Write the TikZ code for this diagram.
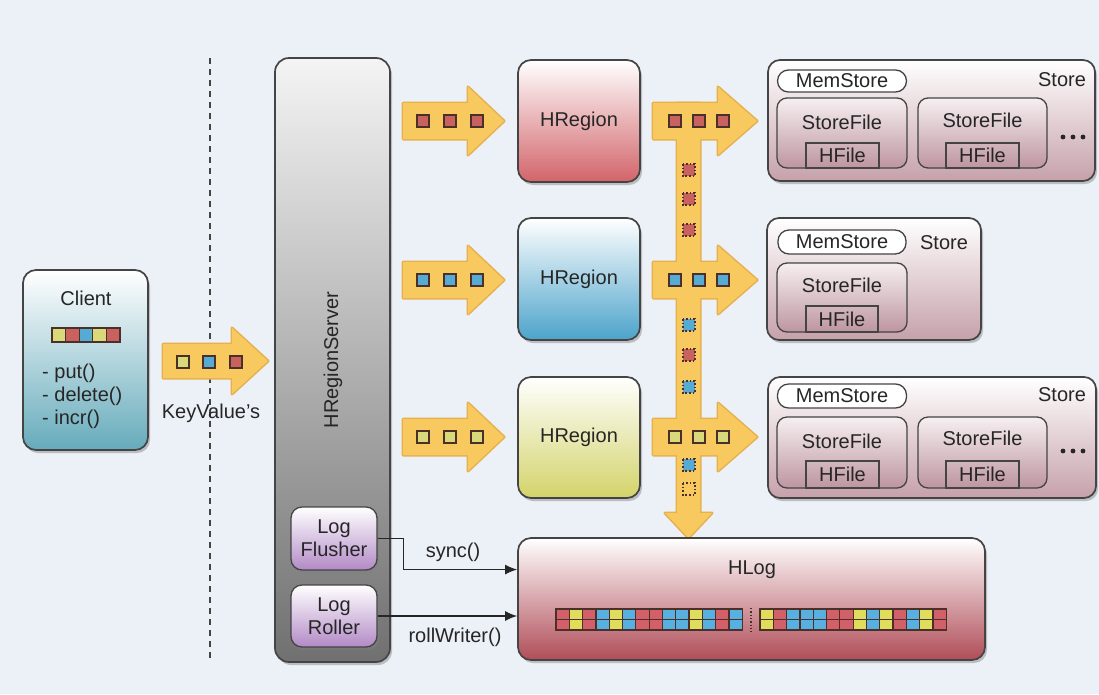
\documentclass[tikz,border=0pt]{standalone}
\usepackage{fontspec}
\setmainfont{Liberation Sans}
\usetikzlibrary{shadows,arrows.meta,calc}
\definecolor{bgc}{HTML}{ECF0F7}
\definecolor{txt}{HTML}{262626}
\definecolor{edge}{HTML}{444444}
\definecolor{arrowfill}{HTML}{F8C95E}
\definecolor{arrowedge}{HTML}{E6B04E}
\definecolor{sqedge}{HTML}{4A3028}
\definecolor{sqr}{HTML}{C9625F}
\definecolor{sqb}{HTML}{55ABD3}
\definecolor{sqy}{HTML}{D9D97A}
\definecolor{regred}{HTML}{D2646A}
\definecolor{regblue}{HTML}{4CA3CB}
\definecolor{regyel}{HTML}{D3D36A}
\definecolor{clientc}{HTML}{66ABBB}
\definecolor{storec}{HTML}{C6A1AA}
\definecolor{sftop}{HTML}{F6EFF1}
\definecolor{sfbot}{HTML}{BD95A0}
\definecolor{hlogc}{HTML}{B04D58}
\definecolor{logc}{HTML}{B28AC6}
\definecolor{srvtop}{HTML}{F4F4F4}
\definecolor{srvmid}{HTML}{B8B8B8}
\definecolor{srvbot}{HTML}{707070}
\definecolor{lbr}{HTML}{D35F68}
\definecolor{lby}{HTML}{E0DD5C}
\definecolor{lbb}{HTML}{57B0E0}
\tikzset{
  lbl/.style={font=\fontsize{20}{23}\selectfont, text=txt, inner sep=0pt},
  box/.style={draw=edge, line width=1.7pt, rounded corners=13pt, inner sep=0pt,
    drop shadow={opacity=0.45, shadow xshift=2pt, shadow yshift=-3pt}},
  pill/.style={draw=edge, line width=1.3pt, rounded corners=11pt, fill=white, inner sep=0pt,
    font=\fontsize{20}{23}\selectfont, text=txt},
  sfbox/.style={draw=edge, line width=1.3pt, rounded corners=10pt, top color=sftop, bottom color=sfbot, inner sep=0pt},
  hfbox/.style={draw=edge, line width=1.3pt, inner sep=0pt, font=\fontsize{20}{23}\selectfont, text=txt},
  sqs/.style={draw=sqedge, line width=1.2pt},
  dsq/.style={draw=sqedge, line width=1.6pt, dotted},
  yedge/.style={draw=arrowedge, line width=3pt, line join=round},
  yfill/.style={fill=arrowfill},
  conn/.style={draw=txt, line width=1.3pt, -{Latex[length=12pt,width=10pt]}},
}
\newcommand\harrowpath[6]{(#1,#4-#5) -- (#2,#4-#5) -- (#2,#4-#6) -- (#3,#4) -- (#2,#4+#6) -- (#2,#4+#5) -- (#1,#4+#5) -- cycle}
\newcommand\kvsq[3]{\draw[sqs, fill=#3] (#1-6,#2-6) rectangle ++(12,12);}
\newcommand\dotsq[3]{\draw[dsq, fill=#3] (#1-6,#2-6) rectangle ++(12,12);}
\begin{document}
\begin{tikzpicture}[x=1pt,y=-1pt]
\fill[bgc] (0,0) rectangle (1099,694);
\useasboundingbox (0,0) rectangle (1099,694);

% dashed separator
\coordinate (dtop) at (210,58);
\coordinate (dbot) at (210,662);
\draw[draw=edge, line width=2.2pt, dash pattern=on 6pt off 5pt] (dtop) -- (dbot);

% Client
\node[box, minimum width=125pt, minimum height=180pt, top color=white, bottom color=clientc] (client) at (85.5,360) {};
\node[lbl] (clientt) at (86,298) {Client};
\foreach \c [count=\i from 0] in {sqy,sqr,sqb,sqy,sqr}{
  \draw[sqs, fill=\c] (52+\i*13.6,328) rectangle ++(13.6,14);
}
\node[lbl, anchor=west, align=left] (ops) at (42,396) {- put()\\- delete()\\- incr()};

% yellow arrows (union outline, then fill)
\foreach \s in {yedge,yfill}{
  \path[\s] \harrowpath{163}{232}{268}{361}{17}{33};
  \path[\s] \harrowpath{403}{468}{504}{121}{18}{34};
  \path[\s] \harrowpath{403}{468}{504}{280}{18}{34};
  \path[\s] \harrowpath{403}{468}{504}{437}{18}{34};
  \path[\s] (677,103) -- (700,103) -- (700,513) -- (712,513) -- (688.5,538) -- (665,513) -- (677,513) -- cycle;
  \path[\s] \harrowpath{653}{718}{757}{121}{18}{34};
  \path[\s] \harrowpath{653}{718}{757}{280}{18}{34};
  \path[\s] \harrowpath{653}{718}{757}{437}{18}{34};
}
\node[lbl] (kvl) at (211,413) {KeyValue's};
% squares in arrows
\kvsq{183}{362}{sqy}\kvsq{209}{362}{sqb}\kvsq{236}{362}{sqr}
\kvsq{423}{121}{sqr}\kvsq{450}{121}{sqr}\kvsq{477}{121}{sqr}
\kvsq{423}{280}{sqb}\kvsq{450}{280}{sqb}\kvsq{477}{280}{sqb}
\kvsq{423}{437}{sqy}\kvsq{450}{437}{sqy}\kvsq{477}{437}{sqy}
\kvsq{675}{121}{sqr}\kvsq{699}{121}{sqr}\kvsq{723}{121}{sqr}
\kvsq{675}{280}{sqb}\kvsq{699}{280}{sqb}\kvsq{723}{280}{sqb}
\kvsq{675}{437}{sqy}\kvsq{699}{437}{sqy}\kvsq{723}{437}{sqy}
\dotsq{689}{170}{sqr}\dotsq{689}{199}{sqr}\dotsq{689}{230}{sqr}
\dotsq{689}{325}{sqb}\dotsq{689}{355}{sqr}\dotsq{689}{387}{sqb}
\dotsq{689}{465}{sqb}\dotsq{689}{489}{arrowfill}

% HRegionServer
\node[box, rounded corners=14pt, minimum width=115pt, minimum height=604pt,
  top color=srvtop, middle color=srvmid, bottom color=srvbot] (hrs) at (332.5,360) {};
\node[lbl, rotate=90] (hrst) at (333,360) {HRegionServer};
\node[box, line width=1.3pt, rounded corners=11pt, minimum width=86pt, minimum height=63pt,
  top color=white, bottom color=logc, lbl, align=center] (flusher) at (334,538.5) {Log\\Flusher};
\node[box, line width=1.3pt, rounded corners=11pt, minimum width=86pt, minimum height=62pt,
  top color=white, bottom color=logc, lbl, align=center] (roller) at (334,616) {Log\\Roller};

% HRegions
\node[box, minimum width=122pt, minimum height=122pt, top color=white, bottom color=regred, lbl] (r1) at (579,121) {HRegion};
\node[box, minimum width=122pt, minimum height=122pt, top color=white, bottom color=regblue, lbl] (r2) at (579,279) {HRegion};
\node[box, minimum width=122pt, minimum height=121pt, top color=white, bottom color=regyel, lbl] (r3) at (579,437.5) {HRegion};

% HLog
\node[box, minimum width=467pt, minimum height=122pt, top color=white, bottom color=hlogc] (hlog) at (751.5,599) {};
\node[lbl] (hlogt) at (752,570) {HLog};
\foreach \c [count=\i from 0] in {lbr,lby,lbr,lbb,lby,lbb,lbr,lbr,lbb,lbb,lby,lbb,lbr,lbb}{
  \draw[sqs, fill=\c] (556+\i*13.3,609) rectangle ++(13.3,10.5);
  \draw[sqs, fill=\c] (556+\i*13.3,619.5) rectangle ++(13.3,10.5);
}
\foreach \c [count=\i from 0] in {lby,lbr,lbb,lbb,lbb,lbr,lbr,lby,lbb,lby,lbr,lbb,lby,lbr}{
  \draw[sqs, fill=\c] (760+\i*13.3,609) rectangle ++(13.3,10.5);
  \draw[sqs, fill=\c] (760+\i*13.3,619.5) rectangle ++(13.3,10.5);
}
\draw[draw=sqedge, line width=1.3pt, dotted] (751,608) -- (751,632);

% connectors
\coordinate (syncend) at ($(hlog.north west)!0.262!(hlog.south west)$);
\draw[conn] (flusher.east) -- ++(26,0) |- (syncend);
\draw[conn] (roller.east) -- (roller.east -| hlog.west);
\node[lbl] (syncl) at (453,552) {sync()};
\node[lbl] (rolll) at (455,637) {rollWriter()};

% Store 1
\node[box, rounded corners=12pt, minimum width=327pt, minimum height=121pt, top color=white, bottom color=storec] (st1) at (931.5,120.5) {};
\node[lbl] (st1l) at (1062,80) {Store};
\node[pill, minimum width=129pt, minimum height=22pt] (ms1) at (842,81) {MemStore};
\node[sfbox, minimum width=130pt, minimum height=70pt] (sf1a) at (842,133) {};
\node[lbl] (sf1at) at (842,122) {StoreFile};
\node[hfbox, minimum width=73pt, minimum height=25pt] (hf1a) at (842.5,155.5) {HFile};
\node[sfbox, minimum width=129pt, minimum height=70pt] (sf1b) at (982.5,133) {};
\node[lbl] (sf1bt) at (982.5,120) {StoreFile};
\node[hfbox, minimum width=73pt, minimum height=25pt] (hf1b) at (982.5,155.5) {HFile};
\foreach \d in {0,10,20}{\fill[txt] (1063+\d,137) circle (2.4pt);}

% Store 2
\node[box, rounded corners=12pt, minimum width=214pt, minimum height=122pt, top color=white, bottom color=storec] (st2) at (874,279) {};
\node[lbl] (st2l) at (944,243) {Store};
\node[pill, minimum width=128pt, minimum height=24pt] (ms2) at (842,242) {MemStore};
\node[sfbox, minimum width=130pt, minimum height=69pt] (sf2) at (842,297.5) {};
\node[lbl] (sf2t) at (842,285) {StoreFile};
\node[hfbox, minimum width=72pt, minimum height=26pt] (hf2) at (842,319) {HFile};

% Store 3
\node[box, rounded corners=12pt, minimum width=328pt, minimum height=121pt, top color=white, bottom color=storec] (st3) at (932,437.5) {};
\node[lbl] (st3l) at (1062,395) {Store};
\node[pill, minimum width=129pt, minimum height=24pt] (ms3) at (842,396) {MemStore};
\node[sfbox, minimum width=130pt, minimum height=71pt] (sf3a) at (842,452.5) {};
\node[lbl] (sf3at) at (842,441) {StoreFile};
\node[hfbox, minimum width=73pt, minimum height=27pt] (hf3a) at (842.5,474.5) {HFile};
\node[sfbox, minimum width=129pt, minimum height=71pt] (sf3b) at (982.5,452.5) {};
\node[lbl] (sf3bt) at (982.5,438) {StoreFile};
\node[hfbox, minimum width=73pt, minimum height=27pt] (hf3b) at (982.5,474.5) {HFile};
\foreach \d in {0,10,20}{\fill[txt] (1063+\d,451) circle (2.4pt);}
\end{tikzpicture}
\end{document}
